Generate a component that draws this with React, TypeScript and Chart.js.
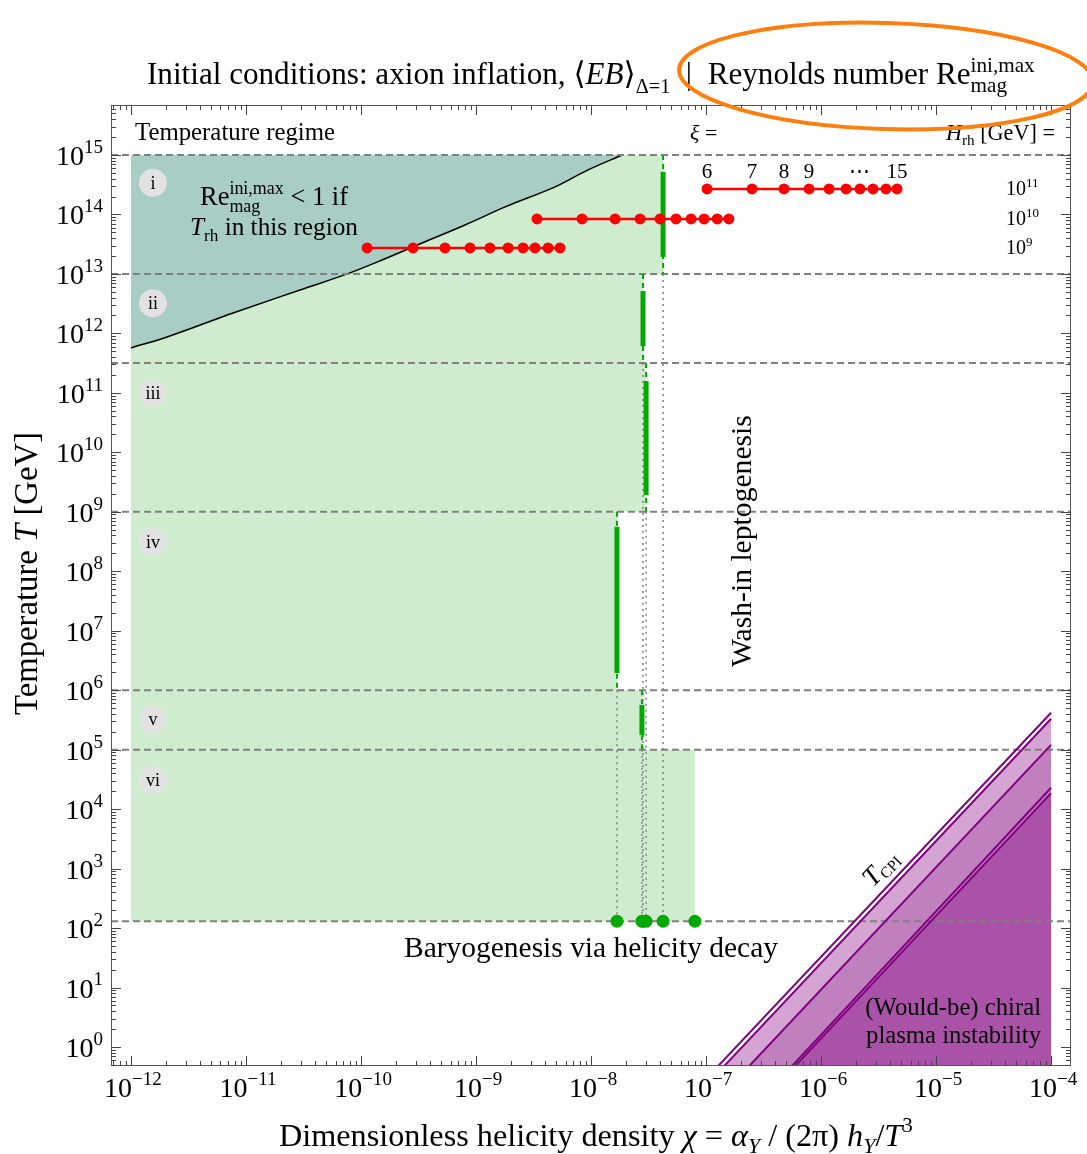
import React, { useEffect, useRef } from "react";
import { Chart, registerables } from "chart.js";

Chart.register(...registerables);

const FONT = "'Liberation Serif', 'DejaVu Serif', serif";

// ---------- axis ranges ----------
const X_MIN = 6.7e-13;
const X_MAX = 1.49e-4;
const Y_MIN = 0.479;
const Y_MAX = 6.92e15;
const X_TICK_EXP = [-12, -11, -10, -9, -8, -7, -6, -5, -4];
const Y_TICK_EXP = [0, 1, 2, 3, 4, 5, 6, 7, 8, 9, 10, 11, 12, 13, 14, 15];

// ---------- temperature regimes ----------
const regimeNames = ["i", "ii", "iii", "iv", "v", "vi"];
const regimeTop = [1e15, 1e13, 3.16e11, 1e9, 1e6, 1e5];
const regimeBottom = [1e13, 3.16e11, 1e9, 1e6, 1e5, 130];
const regimeChiEdge = [4.23e-8, 2.83e-8, 3.01e-8, 1.68e-8, 2.77e-8, 8.0e-8];
const greenChiMin = 1e-12;
const thickLow = [1.93e13, 6.12e11, 1.91e9, 1.95e6, 1.77e5];
const thickHigh = [5.2e14, 5.15e12, 1.58e11, 5.6e8, 5.65e5];
const regimeLabelT = [3.4e14, 3.2e12, 1.0e11, 3.1e8, 3.2e5, 3.1e4];
const regimeLabelChi = 1.55e-12;
const ewT = 130;

// ---------- Re_mag < 1 boundary ----------
const reChi = [1e-12, 2.06e-12, 7.71e-12, 2.95e-11, 8.02e-11, 1.52e-10, 3.39e-10, 8.02e-10, 1.79e-9, 4.86e-9, 9.42e-9, 1.86e-8];
const reT = [5.69e11, 8.71e11, 2.2e12, 5.37e12, 1.04e13, 1.71e13, 3.31e13, 6.65e13, 1.34e14, 2.9e14, 5.6e14, 1e15];

// ---------- xi = 6..15 rows for H_rh = 1e11, 1e10, 1e9 GeV ----------
const xiChiH11 = [1.02e-7, 2.51e-7, 4.76e-7, 7.87e-7, 1.175e-6, 1.65e-6, 2.18e-6, 2.83e-6, 3.67e-6, 4.58e-6];
const xiChiH10 = [3.39e-9, 8.36e-9, 1.62e-8, 2.67e-8, 3.98e-8, 5.48e-8, 7.41e-8, 9.62e-8, 1.25e-7, 1.58e-7];
const xiChiH9 = [1.13e-10, 2.83e-10, 5.37e-10, 8.87e-10, 1.32e-9, 1.9e-9, 2.56e-9, 3.26e-9, 4.23e-9, 5.37e-9];
const xiRowT = [2.68e14, 8.39e13, 2.73e13];
const hrhExp = [11, 10, 9];
const xiLabelIdx = [0, 1, 2, 3, 6, 9];
const xiLabels = ["6", "7", "8", "9", "⋯", "15"];

// ---------- chiral plasma instability lines ----------
const cpiTopChi = 1e-4;
const cpiTopT = [4.17e5, 3.31e5, 1.2e5, 2.29e4, 1.86e4];
const cpiBottomChi = [1.04e-7, 1.175e-7, 1.94e-7, 4.58e-7, 4.86e-7];
const cpiBottomT = 0.316;
const cpiFillLine = [1, 2, 4];
const cpiFillColor = ["#d4a4d2", "#c080be", "#aa52a8"];

// ---------- colours ----------
const GREEN_FILL = "#cfeccf";
const TEAL_FILL = "#a8cdc4";
const GREEN = "#00aa00";
const GRAY = "#808080";
const PURPLE = "#800080";
const RED = "#ff0000";

// ---------- rich text helpers ----------
type Seg = { t?: string; it?: boolean; s?: number; dy?: number; sup?: string; sub?: string };

function fnt(size: number, it?: boolean) {
  return `${it ? "italic " : ""}${size.toFixed(2)}px ${FONT}`;
}
function segW(ctx: CanvasRenderingContext2D, g: Seg, size: number) {
  if (g.sup !== undefined || g.sub !== undefined) {
    ctx.font = fnt(size * 0.68);
    return Math.max(g.sup ? ctx.measureText(g.sup).width : 0, g.sub ? ctx.measureText(g.sub).width : 0);
  }
  ctx.font = fnt(size * (g.s ?? 1), g.it);
  return ctx.measureText(g.t ?? "").width;
}
function richWidth(ctx: CanvasRenderingContext2D, segs: Seg[], size: number) {
  return segs.reduce((w, g) => w + segW(ctx, g, size), 0);
}
function fitSize(ctx: CanvasRenderingContext2D, segs: Seg[], width: number) {
  return (20 * width) / richWidth(ctx, segs, 20);
}
function drawRich(ctx: CanvasRenderingContext2D, segs: Seg[], x: number, y: number, size: number, align = "left") {
  const w = richWidth(ctx, segs, size);
  let cx = align === "left" ? x : align === "center" ? x - w / 2 : x - w;
  ctx.textAlign = "left";
  ctx.textBaseline = "alphabetic";
  for (const g of segs) {
    const gw = segW(ctx, g, size);
    if (g.sup !== undefined || g.sub !== undefined) {
      ctx.font = fnt(size * 0.68);
      if (g.sup) ctx.fillText(g.sup, cx, y - size * 0.4);
      if (g.sub) ctx.fillText(g.sub, cx, y + size * 0.27);
    } else {
      ctx.font = fnt(size * (g.s ?? 1), g.it);
      ctx.fillText(g.t ?? "", cx, y + (g.dy ?? 0) * size);
    }
    cx += gw;
  }
}
const powSegs = (e: number): Seg[] => [{ t: "10" }, { t: e < 0 ? "−" + String(-e) : String(e), s: 0.68, dy: -0.43 }];

const annotPlugin = {
  id: "annot",
  afterDraw(chart: any) {
    const ctx: CanvasRenderingContext2D = chart.ctx;
    const a = chart.chartArea;
    const xs = chart.scales.x;
    const ys = chart.scales.y;
    ctx.save();

    // frame
    ctx.strokeStyle = "#555";
    ctx.lineWidth = 1;
    ctx.strokeRect(a.left + 0.5, a.top + 0.5, a.right - a.left - 1, a.bottom - a.top - 1);

    // inward ticks on all sides
    ctx.strokeStyle = "#444";
    ctx.beginPath();
    for (let n = -14; n <= -3; n++) {
      for (let m = 1; m <= 9; m++) {
        const v = m * Math.pow(10, n);
        if (v <= xs.min || v >= xs.max) continue;
        const px = Math.round(xs.getPixelForValue(v)) + 0.5;
        const L = m === 1 ? 10 : 5;
        ctx.moveTo(px, a.bottom);
        ctx.lineTo(px, a.bottom - L);
        ctx.moveTo(px, a.top);
        ctx.lineTo(px, a.top + L);
      }
    }
    for (let n = -1; n <= 16; n++) {
      for (let m = 1; m <= 9; m++) {
        const v = m * Math.pow(10, n);
        if (v <= ys.min || v >= ys.max) continue;
        const py = Math.round(ys.getPixelForValue(v)) + 0.5;
        const L = m === 1 ? 10 : 5;
        ctx.moveTo(a.left, py);
        ctx.lineTo(a.left + L, py);
        ctx.moveTo(a.right, py);
        ctx.lineTo(a.right - L, py);
      }
    }
    ctx.stroke();

    ctx.fillStyle = "#000";

    // tick labels
    X_TICK_EXP.forEach((e) => {
      const px = xs.getPixelForValue(Math.pow(10, e));
      drawRich(ctx, powSegs(e), px + 2, a.bottom + 31, 28, "center");
    });
    Y_TICK_EXP.forEach((e) => {
      const py = ys.getPixelForValue(Math.pow(10, e));
      drawRich(ctx, powSegs(e), a.left - 8, py + 10, 28, "right");
    });

    // title
    const title: Seg[] = [
      { t: "Initial conditions: axion inflation, ⟨" },
      { t: "EB", it: true },
      { t: "⟩" },
      { t: "Δ=1", s: 0.65, dy: 0.3 },
      { t: "  |  Reynolds number Re" },
      { sup: "ini,max", sub: "mag" },
    ];
    drawRich(ctx, title, 147, 84, fitSize(ctx, title, 888));

    // header labels
    const tr: Seg[] = [{ t: "Temperature regime" }];
    drawRich(ctx, tr, 135, 140, fitSize(ctx, tr, 200));
    const xiEq: Seg[] = [{ t: "ξ", it: true }, { t: " =" }];
    drawRich(ctx, xiEq, 690, 140, 22);
    const hEq: Seg[] = [{ t: "H", it: true }, { t: "rh", s: 0.68, dy: 0.22 }, { t: " [GeV] =" }];
    drawRich(ctx, hEq, 1055, 140, fitSize(ctx, hEq, 109), "right");

    // regime circles
    regimeNames.forEach((nm, i) => {
      const cx = xs.getPixelForValue(regimeLabelChi);
      const cy = ys.getPixelForValue(regimeLabelT[i]);
      ctx.fillStyle = "#e2e2e2";
      ctx.beginPath();
      ctx.arc(cx, cy, 14, 0, Math.PI * 2);
      ctx.fill();
      ctx.fillStyle = "#000";
      ctx.font = fnt(18);
      ctx.textAlign = "center";
      ctx.textBaseline = "middle";
      ctx.fillText(nm, cx, cy + 1);
    });

    // Re < 1 label
    const re1: Seg[] = [{ t: "Re" }, { sup: "ini,max", sub: "mag" }, { t: " < 1 if" }];
    drawRich(ctx, re1, 200, 205, fitSize(ctx, re1, 148));
    const re2: Seg[] = [{ t: "T", it: true }, { t: "rh", s: 0.68, dy: 0.22 }, { t: " in this region" }];
    drawRich(ctx, re2, 190, 235, fitSize(ctx, re2, 168));

    // xi labels above top row
    xiLabelIdx.forEach((idx, k) => {
      const px = xs.getPixelForValue(xiChiH11[idx]);
      ctx.font = fnt(21);
      ctx.textAlign = "center";
      ctx.textBaseline = "alphabetic";
      ctx.fillText(xiLabels[k], px, 178);
    });

    // H_rh values on the right
    xiRowT.forEach((T, k) => {
      const py = ys.getPixelForValue(T);
      const segs: Seg[] = [{ t: "10" }, { t: String(hrhExp[k]), s: 0.65, dy: -0.42 }];
      drawRich(ctx, segs, 1006, py + 6, 20);
    });

    // Wash-in leptogenesis
    const wash: Seg[] = [{ t: "Wash-in leptogenesis" }];
    ctx.save();
    ctx.translate(751, 667);
    ctx.rotate(-Math.PI / 2);
    drawRich(ctx, wash, 0, 0, fitSize(ctx, wash, 252));
    ctx.restore();

    // Baryogenesis
    const bary: Seg[] = [{ t: "Baryogenesis via helicity decay" }];
    drawRich(ctx, bary, 404, 957, fitSize(ctx, bary, 374));

    // CPI texts
    const pl: Seg[] = [{ t: "plasma instability" }];
    const plSize = fitSize(ctx, pl, 175);
    drawRich(ctx, [{ t: "(Would-be) chiral" }], 1041, 1015, plSize, "right");
    drawRich(ctx, pl, 1041, 1043, plSize, "right");

    const p1x = xs.getPixelForValue(cpiBottomChi[0]);
    const p1y = ys.getPixelForValue(cpiBottomT);
    const p2x = xs.getPixelForValue(cpiTopChi);
    const p2y = ys.getPixelForValue(cpiTopT[0]);
    const ang = Math.atan2(p2y - p1y, p2x - p1x);
    ctx.save();
    ctx.translate(873, 888);
    ctx.rotate(ang);
    drawRich(ctx, [{ t: "T", it: true }, { t: "CPI", s: 0.58, dy: 0.15 }], 0, 0, 27);
    ctx.restore();

    // axis titles
    const yt: Seg[] = [{ t: "Temperature " }, { t: "T", it: true }, { t: " [GeV]" }];
    ctx.save();
    ctx.translate(37, 715);
    ctx.rotate(-Math.PI / 2);
    drawRich(ctx, yt, 0, 0, fitSize(ctx, yt, 283));
    ctx.restore();

    const xt: Seg[] = [
      { t: "Dimensionless helicity density " },
      { t: "χ", it: true },
      { t: " = " },
      { t: "α", it: true },
      { t: "Y", it: true, s: 0.68, dy: 0.22 },
      { t: " / (2π) " },
      { t: "h", it: true },
      { t: "Y", it: true, s: 0.68, dy: 0.22 },
      { t: "/" },
      { t: "T", it: true },
      { t: "3", s: 0.65, dy: -0.42 },
    ];
    drawRich(ctx, xt, 279, 1146, fitSize(ctx, xt, 634));

    // orange highlight ellipse
    ctx.strokeStyle = "#ff7f0e";
    ctx.lineWidth = 4;
    ctx.beginPath();
    ctx.ellipse(886, 76, 207, 53, 0.03, 0, Math.PI * 2);
    ctx.stroke();

    ctx.restore();
  },
};

function buildDatasets() {
  const ds: any[] = [];
  const base = { pointRadius: 0, tension: 0, fill: false };

  // green regime rectangles
  regimeTop.forEach((top, i) => {
    ds.push({
      ...base,
      data: [{ x: greenChiMin, y: top }, { x: regimeChiEdge[i], y: top }],
      fill: { value: regimeBottom[i] },
      backgroundColor: GREEN_FILL,
      borderWidth: 0,
      order: 100,
    });
  });

  // Re_mag < 1 region
  ds.push({
    ...base,
    data: reChi.map((x, i) => ({ x, y: reT[i] })),
    fill: { value: 1e15 },
    backgroundColor: TEAL_FILL,
    borderColor: "#000",
    borderWidth: 1.5,
    cubicInterpolationMode: "monotone",
    order: 90,
  });

  // CPI fills
  cpiFillLine.forEach((li, k) => {
    ds.push({
      ...base,
      data: [{ x: cpiBottomChi[li], y: cpiBottomT }, { x: cpiTopChi, y: cpiTopT[li] }],
      fill: "start",
      backgroundColor: cpiFillColor[k],
      borderWidth: 0,
      order: 70 - k,
    });
  });

  // regime boundary dashed lines
  const bounds = [...regimeTop, regimeBottom[regimeBottom.length - 1]];
  bounds.forEach((T) => {
    ds.push({
      ...base,
      data: [{ x: X_MIN, y: T }, { x: X_MAX, y: T }],
      borderColor: GRAY,
      borderWidth: 2,
      borderDash: [7, 4],
      order: 65,
    });
  });

  // CPI lines
  cpiTopT.forEach((T, i) => {
    ds.push({
      ...base,
      data: [{ x: cpiBottomChi[i], y: cpiBottomT }, { x: cpiTopChi, y: T }],
      borderColor: PURPLE,
      borderWidth: 2,
      order: 60,
    });
  });

  // gray dotted drops to EW scale
  for (let i = 0; i < 5; i++) {
    ds.push({
      ...base,
      data: [{ x: regimeChiEdge[i], y: regimeBottom[i] }, { x: regimeChiEdge[i], y: ewT }],
      borderColor: GRAY,
      borderWidth: 1.5,
      borderDash: [2, 4],
      order: 50,
    });
  }

  // green boundaries (thin dashed + thick)
  for (let i = 0; i < 5; i++) {
    ds.push({
      ...base,
      data: [{ x: regimeChiEdge[i], y: regimeTop[i] }, { x: regimeChiEdge[i], y: regimeBottom[i] }],
      borderColor: GREEN,
      borderWidth: 2,
      borderDash: [5, 4],
      order: 40,
    });
    ds.push({
      ...base,
      data: [{ x: regimeChiEdge[i], y: thickLow[i] }, { x: regimeChiEdge[i], y: thickHigh[i] }],
      borderColor: GREEN,
      borderWidth: 5,
      borderCapStyle: "butt",
      order: 39,
    });
  }

  // green dots at EW scale
  ds.push({
    data: regimeChiEdge.map((x) => ({ x, y: ewT })),
    showLine: false,
    pointRadius: 6.5,
    pointBackgroundColor: GREEN,
    pointBorderWidth: 0,
    order: 30,
  });

  // red xi rows
  [xiChiH11, xiChiH10, xiChiH9].forEach((row, k) => {
    ds.push({
      data: row.map((x) => ({ x, y: xiRowT[k] })),
      borderColor: RED,
      borderWidth: 2.5,
      pointRadius: 5.5,
      pointBackgroundColor: RED,
      pointBorderWidth: 0,
      tension: 0,
      fill: false,
      order: 20,
    });
  });

  return ds;
}

export default function App() {
  const ref = useRef<HTMLCanvasElement>(null);
  useEffect(() => {
    document.body.style.margin = "0";
    const chart = new Chart(ref.current as HTMLCanvasElement, {
      type: "line",
      data: { datasets: buildDatasets() },
      options: {
        responsive: false,
        animation: false,
        devicePixelRatio: 1,
        events: [],
        layout: { padding: { top: 105, right: 16, left: 0, bottom: 0 } },
        plugins: { legend: { display: false }, tooltip: { enabled: false }, title: { display: false } },
        scales: {
          x: {
            type: "logarithmic",
            min: X_MIN,
            max: X_MAX,
            grid: { display: false, drawTicks: false },
            border: { display: false },
            ticks: { display: false },
            afterFit: (s: any) => {
              s.height = 88;
            },
          },
          y: {
            type: "logarithmic",
            min: Y_MIN,
            max: Y_MAX,
            grid: { display: false, drawTicks: false },
            border: { display: false },
            ticks: { display: false },
            afterFit: (s: any) => {
              s.width = 111;
            },
          },
        },
      } as any,
      plugins: [annotPlugin],
    });
    return () => chart.destroy();
  }, []);
  return <canvas ref={ref} width={1087} height={1154} style={{ display: "block" }} />;
}
